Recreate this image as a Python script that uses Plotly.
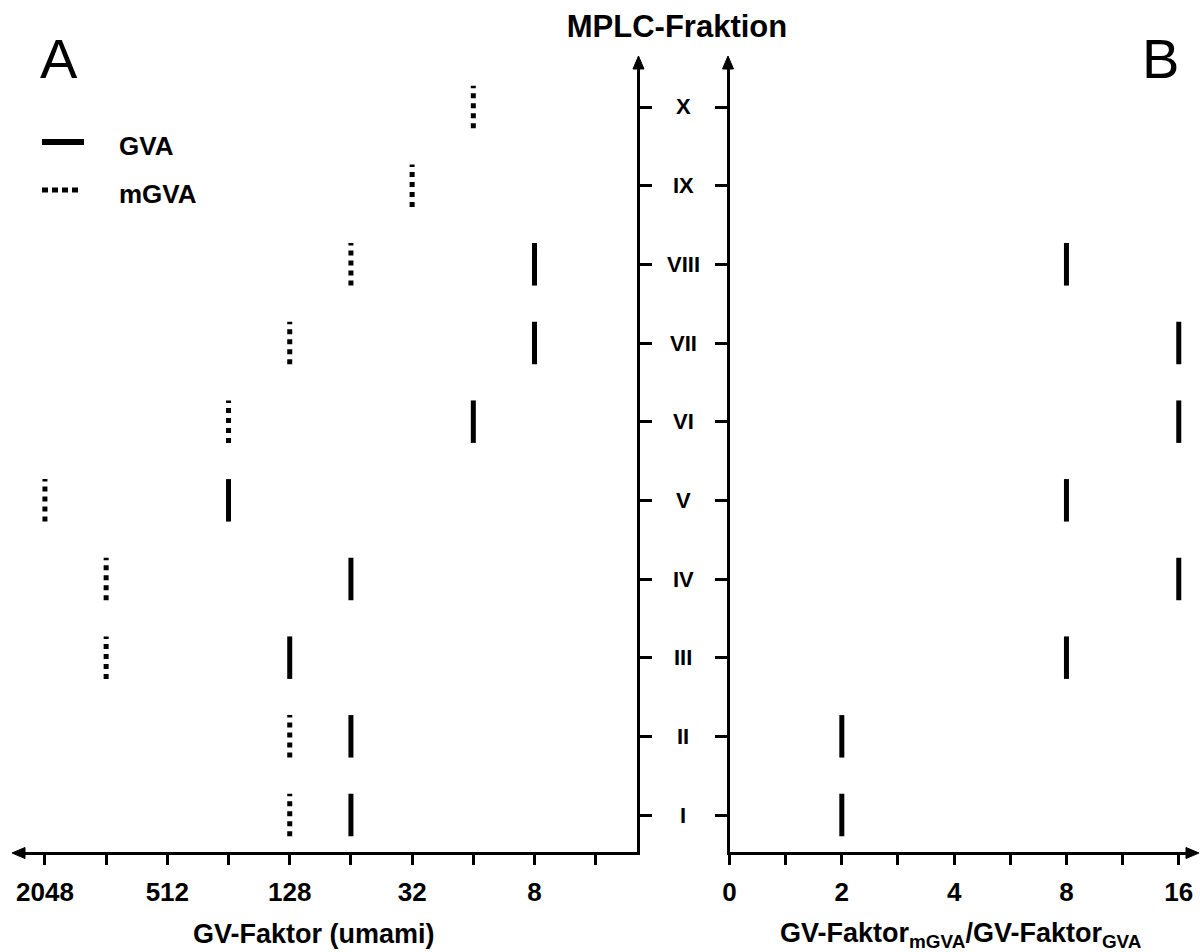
import plotly.graph_objects as go

# ---------------- data ----------------
fractions = ["I", "II", "III", "IV", "V", "VI", "VII", "VIII", "IX", "X"]
gva_factor = [64, 64, 128, 64, 256, 16, 8, 8, None, None]          # GV-Faktor GVA
mgva_factor = [128, 128, 1024, 1024, 2048, 256, 128, 64, 32, 16]   # GV-Faktor mGVA
ratio = [2, 2, 8, 16, 8, 16, 16, 8, None, None]                     # mGVA / GVA

left_tick_vals = [2048, 512, 128, 32, 8]          # labelled ticks
left_minor_vals = [1024, 256, 64, 16, 4]          # unlabelled ticks
right_tick_labels = [0, 2, 4, 8, 16]              # equally spaced ratio ticks

# ---------------- layout constants ----------------
W, H = 1200, 952
FONT = "Liberation Sans"
HALF = 0.27                  # half height of a mark, in fraction units
levels = list(range(1, len(fractions) + 1))


def px(x):
    return x / W


def py(y):
    return 1 - y / H


def ratio_pos(r):
    # position of a ratio on the equally spaced ratio scale (0, 2, 4, 8, 16)
    return 2 * right_tick_labels.index(r)


def segs(values, xmap=lambda v: v):
    xs, ys = [], []
    for lvl, v in zip(levels, values):
        if v is None:
            continue
        xs += [xmap(v), xmap(v), None]
        ys += [lvl - HALF, lvl + HALF, None]
    return xs, ys


fig = go.Figure()

gx, gy = segs(gva_factor)
mx, my = segs(mgva_factor)
rx, ry = segs(ratio, ratio_pos)

fig.add_trace(go.Scatter(x=gx, y=gy, mode="lines", name="GVA",
                         line=dict(color="black", width=5),
                         xaxis="x", yaxis="y", showlegend=False))
fig.add_trace(go.Scatter(x=mx, y=my, mode="lines", name="mGVA",
                         line=dict(color="black", width=5, dash="5px,5px"),
                         xaxis="x", yaxis="y", showlegend=False))
fig.add_trace(go.Scatter(x=rx, y=ry, mode="lines", name="GV-Faktor mGVA/GVA",
                         line=dict(color="black", width=5),
                         xaxis="x2", yaxis="y2", showlegend=False))

LEFT_DOM = [px(20), px(637)]
RIGHT_DOM = [px(729.5), px(1190)]
Y_DOM = [py(851.5), py(65)]
UNIT = (815 - 107) / 9
Y_RANGE = [1 - (851.5 - 815) / UNIT, 10 + (107 - 65) / UNIT]

TICK = dict(ticks="outside", tickcolor="black", tickwidth=3, ticklen=10)
axis_common = dict(showline=True, linecolor="black", linewidth=3,
                   showgrid=False, zeroline=False, **TICK,
                   tickfont=dict(family=FONT, size=26, color="black", weight="bold"))
title_font = dict(family=FONT, size=27, color="black", weight="bold")

fig.update_layout(
    width=W, height=H,
    margin=dict(l=0, r=0, t=0, b=0),
    paper_bgcolor="white", plot_bgcolor="white",
    font=dict(family=FONT, color="black"),
    title=dict(text="MPLC-Fraktion", x=px(677), xanchor="center",
               y=py(26), yanchor="middle",
               font=dict(family=FONT, size=31, color="black", weight="bold")),
    xaxis=dict(domain=LEFT_DOM, anchor="y", type="log",
               range=[3.434, 0.399],
               tickmode="array", tickvals=left_tick_vals,
               ticktext=[str(v) for v in left_tick_vals],
               minor=dict(tickmode="array", tickvals=left_minor_vals, showgrid=False, **TICK),
               ticklabelstandoff=5, ticklabeloverflow="allow",
               automargin=False, **axis_common),
    yaxis=dict(domain=Y_DOM, anchor="x", side="right", range=Y_RANGE,
               tickmode="array", tickvals=levels, showticklabels=False,
               automargin=False, **{**axis_common, "ticklen": 12}),
    xaxis2=dict(domain=RIGHT_DOM, anchor="y2", type="linear",
                range=[0, 8.2],
                tickmode="array",
                tickvals=[ratio_pos(r) for r in right_tick_labels],
                ticktext=[str(r) for r in right_tick_labels],
                minor=dict(dtick=1, tick0=0, showgrid=False, **TICK),
                ticklabelstandoff=5, ticklabeloverflow="allow",
                automargin=False, **axis_common),
    yaxis2=dict(domain=Y_DOM, anchor="x2", side="left", range=Y_RANGE,
                tickmode="array", tickvals=levels, showticklabels=False,
                automargin=False, **{**axis_common, "ticklen": 12}),
)

annotations = []
# axis titles
annotations.append(dict(x=px(314), y=py(934), xref="paper", yref="paper",
                        text="GV-Faktor (umami)", showarrow=False,
                        xanchor="center", yanchor="middle", font=title_font))
annotations.append(dict(x=px(961), y=py(935), xref="paper", yref="paper",
                        text="GV-Faktor<sub>mGVA</sub>/GV-Faktor<sub>GVA</sub>",
                        showarrow=False, xanchor="center", yanchor="middle",
                        font=title_font))
# fraction labels between the two panels
for lvl, name in zip(levels, fractions):
    annotations.append(dict(x=px(683), xref="paper", y=lvl, yref="y", text=name,
                            showarrow=False, xanchor="center", yanchor="middle",
                            font=dict(family=FONT, size=22, color="black", weight="bold")))
# panel letters
annotations.append(dict(x=px(38), y=py(58), xref="paper", yref="paper", text="A",
                        showarrow=False, xanchor="left", yanchor="middle",
                        font=dict(family=FONT, size=56, color="black")))
annotations.append(dict(x=px(1181), y=py(58), xref="paper", yref="paper", text="B",
                        showarrow=False, xanchor="right", yanchor="middle",
                        font=dict(family=FONT, size=56, color="black")))
# legend texts
annotations.append(dict(x=px(117), y=py(146), xref="paper", yref="paper", text="GVA",
                        showarrow=False, xanchor="left", yanchor="middle",
                        font=dict(family=FONT, size=26, color="black", weight="bold")))
annotations.append(dict(x=px(117), y=py(194), xref="paper", yref="paper", text="mGVA",
                        showarrow=False, xanchor="left", yanchor="middle",
                        font=dict(family=FONT, size=26, color="black", weight="bold")))
fig.update_layout(annotations=annotations)


# axis arrow heads (filled triangles)
def tri(points):
    p = [f"{px(x):.5f},{py(y):.5f}" for x, y in points]
    return "M" + " L".join(p) + " Z"


arrow_heads = [
    [(12, 853), (25, 847.5), (25, 858.5)],        # left x axis (A)
    [(1199, 853), (1186, 847.5), (1186, 858.5)],  # right x axis (B)
    [(638.5, 56), (633, 69), (644, 69)],          # y axis A
    [(728, 56), (722.5, 69), (733.5, 69)],        # y axis B
]
for pts in arrow_heads:
    fig.add_shape(type="path", xref="paper", yref="paper", path=tri(pts),
                  fillcolor="black", line=dict(color="black", width=1))

# legend keys
fig.add_shape(type="line", xref="paper", yref="paper", x0=px(42), x1=px(84),
              y0=py(142), y1=py(142), line=dict(color="black", width=6))
fig.add_shape(type="line", xref="paper", yref="paper", x0=px(42), x1=px(82),
              y0=py(190), y1=py(190), line=dict(color="black", width=5, dash="6px,4px"))

# remove the browser's default page margin so the figure fills the window
fig.write_html("out.html",
               config={"displayModeBar": False},
               post_script="document.body.style.margin='0';document.body.style.overflow='hidden';")
